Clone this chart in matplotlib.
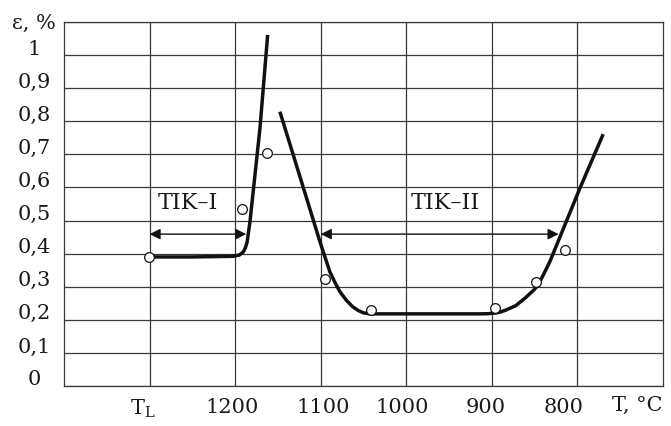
import numpy as np
import matplotlib
matplotlib.use('Agg')
import matplotlib.pyplot as plt
from matplotlib.transforms import ScaledTranslation

plt.rcParams['font.family'] = 'DejaVu Serif'
plt.rcParams['mathtext.fontset'] = 'dejavuserif'

# TIK-I curve (temperature, strain)
t1 = [1300, 1250, 1202, 1195, 1190.5, 1188, 1186, 1182.7, 1171, 1162]
e1 = [0.390, 0.390, 0.392, 0.396, 0.405, 0.418, 0.435, 0.496, 0.779, 1.061]

# TIK-II curve
t2 = [1147.7, 1124.3, 1100.9, 1089.3, 1083, 1077.6, 1070, 1062.4, 1056, 1050,
      1042.5, 914, 905, 897, 890.7, 884, 872, 861, 851, 846.3, 840, 832.2,
      797.2, 769.9]
e2 = [0.829, 0.633, 0.436, 0.345, 0.311, 0.285, 0.259, 0.239, 0.228, 0.221,
      0.218, 0.218, 0.2185, 0.220, 0.223, 0.229, 0.243, 0.266, 0.290, 0.304,
      0.335, 0.376, 0.597, 0.761]

# measured points
tp = [1300.4, 1192.4, 1162.5, 1094.7, 1041.4, 896.5, 848.6, 814.7]
ep = [0.390, 0.536, 0.703, 0.324, 0.231, 0.235, 0.314, 0.412]

xticks = [1300, 1200, 1100, 1000, 900, 800]
xlabels = ['T$_{\\mathrm{L}}$', '1200', '1100', '1000', '900', '800']
yticks = [0, 0.1, 0.2, 0.3, 0.4, 0.5, 0.6, 0.7, 0.8, 0.9, 1.0, 1.1]
ylabels = ['0', '0,1', '0,2', '0,3', '0,4', '0,5', '0,6', '0,7', '0,8', '0,9', '1', 'ε, %']

fig = plt.figure(figsize=(6.71, 4.27), dpi=100)
ax = fig.add_axes([64/671, 1-387/427, (663-64)/671, (387-23)/427])

ax.set_xlim(1400, 700)
ax.set_ylim(0, 1.1)

gc = '#3a3a3a'
tc = '#1a1a1a'
ax.set_xticks(xticks)
ax.set_xticklabels(xlabels, fontsize=15, color=tc)
ax.set_yticks(yticks)
ax.set_yticklabels(ylabels, fontsize=15, ha='center', color=tc)
ax.tick_params(axis='both', length=0)
ax.tick_params(axis='y', pad=21.6)
ax.tick_params(axis='x', pad=8)
ax.grid(True, color=gc, lw=0.9)
for s in ax.spines.values():
    s.set_color(gc)
    s.set_linewidth(0.9)

# labels sit a bit above their grid lines
ylabs = ax.get_yticklabels()
for lab in ylabs[:-1]:
    lab.set_transform(lab.get_transform() + ScaledTranslation(0, 0.09, fig.dpi_scale_trans))
ylabs[-1].set_transform(ylabs[-1].get_transform() + ScaledTranslation(0, 0.02, fig.dpi_scale_trans))
xoff = [-0.07, -0.03, 0.02, -0.04, -0.06, -0.14]
for lab, dx in zip(ax.get_xticklabels(), xoff):
    lab.set_transform(lab.get_transform() + ScaledTranslation(dx, 0, fig.dpi_scale_trans))

ax.text(730, -0.055, 'T, °C', fontsize=15, ha='center', va='center', color=tc, clip_on=False)

ax.plot(t1, e1, color='#111111', lw=2.5, solid_capstyle='butt', zorder=3)
ax.plot(t2, e2, color='#111111', lw=2.5, solid_capstyle='butt', zorder=3)
ax.plot(tp, ep, 'o', ms=7, mfc='white', mec='#111111', mew=0.9, zorder=4)

arr = dict(arrowstyle='<|-|>', color='#111111', lw=1.0, mutation_scale=16,
           shrinkA=0, shrinkB=0)
ax.annotate('', xy=(1187, 0.459), xytext=(1300, 0.459), arrowprops=arr)
ax.annotate('', xy=(822, 0.459), xytext=(1100, 0.459), arrowprops=arr)

ax.text(1254.7, 0.555, 'TIK–I', fontsize=16, ha='center', va='center', color=tc)
ax.text(954, 0.556, 'TIK–II', fontsize=16, ha='center', va='center', color=tc)

fig.savefig('out.png', dpi=100)
